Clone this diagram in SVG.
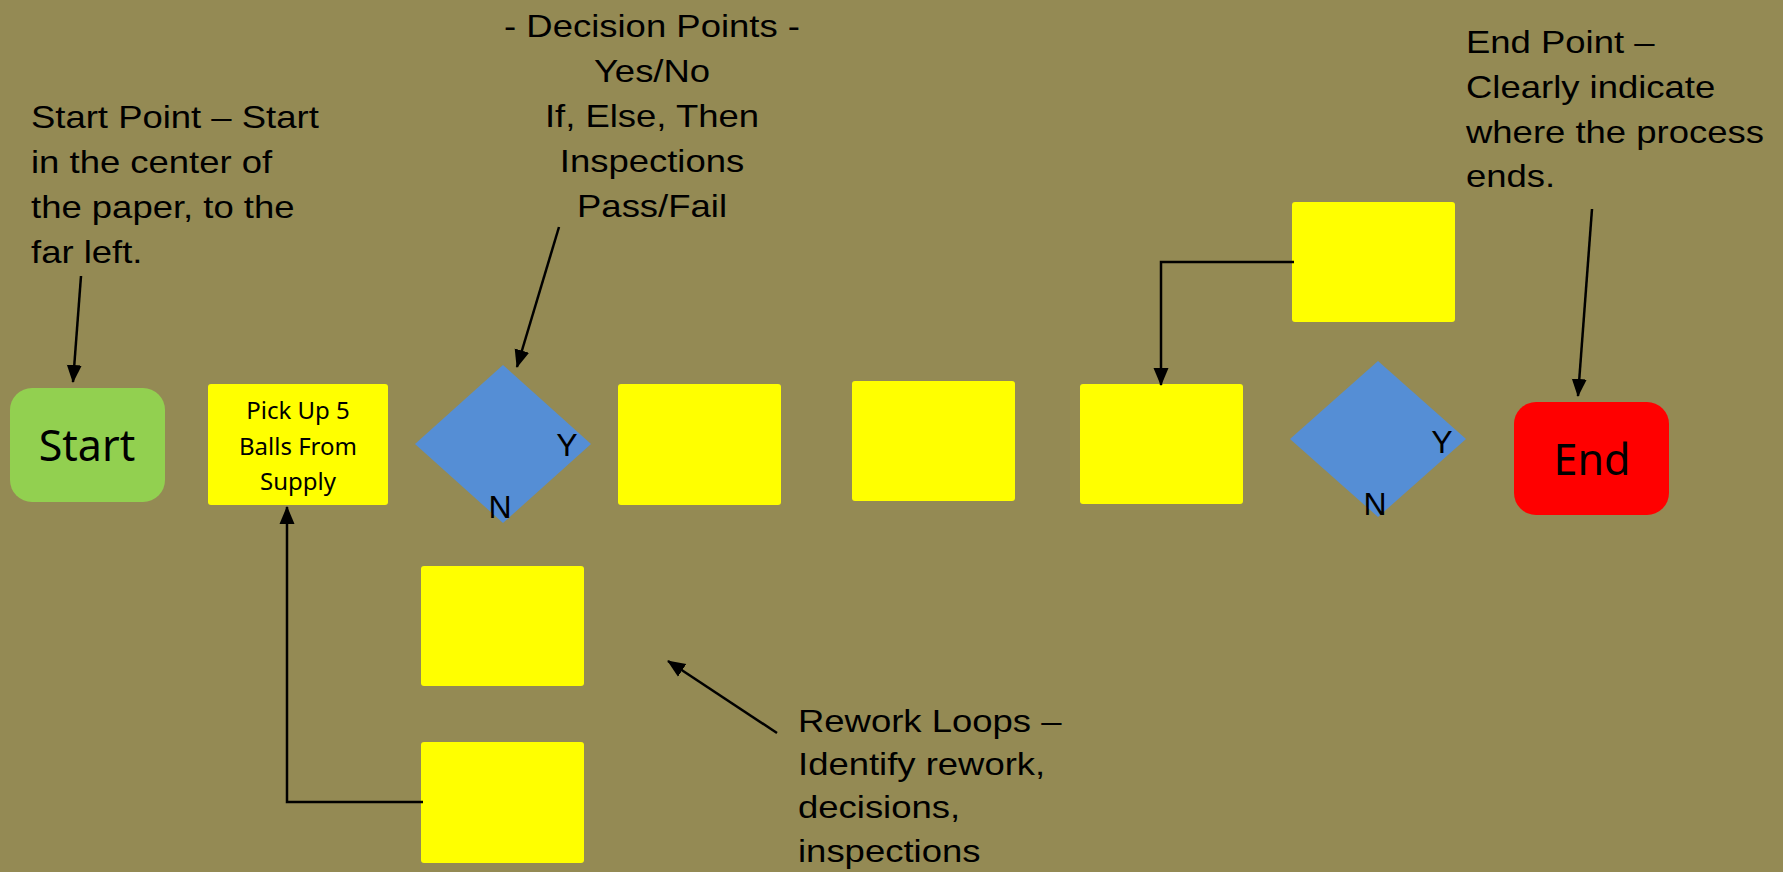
<svg xmlns="http://www.w3.org/2000/svg" width="1783" height="872" viewBox="0 0 1783 872">
  <defs>
    <marker id="arrow" markerUnits="userSpaceOnUse" markerWidth="18" markerHeight="18" viewBox="0 0 18 18" refX="17" refY="9" orient="auto">
      <path d="M0,1.5 L18,9 L0,16.5 Z" fill="#000"/>
    </marker>
    <style>
      .bg { fill: #948A54; }
      .task { fill: #FFFF00; }
      .decision { fill: #558ED5; }
      .start { fill: #92D050; }
      .end { fill: #FF0000; }
      .term { font-family: "Noto Sans", "Open Sans", sans-serif; font-size: 43px; fill: #000; text-anchor: middle; }
      .tasktext { font-family: "Noto Sans", "Open Sans", sans-serif; font-size: 24px; fill: #000; text-anchor: middle; }
      .note { font-family: "Liberation Sans", Arial, sans-serif; font-size: 32px; fill: #000; }
      .yn { font-family: "Liberation Sans", Arial, sans-serif; font-size: 32px; fill: #000; text-anchor: middle; }
      .link { fill: none; stroke: #000; stroke-width: 2.5; marker-end: url(#arrow); }
    </style>
  </defs>

  <rect class="bg" x="0" y="0" width="1783" height="872"/>

  <!-- process nodes -->
  <g id="start">
    <rect class="start" x="10" y="388" width="155" height="114" rx="22"/>
    <text class="term" x="87" y="461">Start</text>
  </g>
  <g id="pick-up">
    <rect class="task" x="208" y="384" width="180" height="121" rx="3"/>
    <text class="tasktext" x="298" y="419">Pick Up 5</text>
    <text class="tasktext" x="298" y="455">Balls From</text>
    <text class="tasktext" x="298" y="490">Supply</text>
  </g>
  <g id="decision-1">
    <polygon class="decision" points="503,365 591,444 503,523 415,444"/>
    <text class="yn" x="567" y="456">Y</text>
    <text class="yn" x="500" y="518">N</text>
  </g>
  <g id="step-2">
    <rect class="task" x="618" y="384" width="163" height="121" rx="3"/>
  </g>
  <g id="step-3">
    <rect class="task" x="852" y="381" width="163" height="120" rx="3"/>
  </g>
  <g id="step-4">
    <rect class="task" x="1080" y="384" width="163" height="120" rx="3"/>
  </g>
  <g id="step-upper">
    <rect class="task" x="1292" y="202" width="163" height="120" rx="3"/>
  </g>
  <g id="decision-2">
    <polygon class="decision" points="1378,361 1466,439 1378,517 1290,439"/>
    <text class="yn" x="1442" y="453">Y</text>
    <text class="yn" x="1375" y="515">N</text>
  </g>
  <g id="end">
    <rect class="end" x="1514" y="402" width="155" height="113" rx="22"/>
    <text class="term" x="1592" y="475">End</text>
  </g>
  <g id="rework-1">
    <rect class="task" x="421" y="566" width="163" height="120" rx="3"/>
  </g>
  <g id="rework-2">
    <rect class="task" x="421" y="742" width="163" height="121" rx="3"/>
  </g>

  <!-- annotations -->
  <g id="note-start" transform="translate(31,0) scale(1.14,1)">
    <text class="note" x="0" y="128">Start Point – Start</text>
    <text class="note" x="0" y="173">in the center of</text>
    <text class="note" x="0" y="218">the paper, to the</text>
    <text class="note" x="0" y="263">far left.</text>
  </g>
  <g id="note-decision" transform="translate(652,0) scale(1.14,1)">
    <text class="note" x="0" y="37" text-anchor="middle">- Decision Points -</text>
    <text class="note" x="0" y="82" text-anchor="middle">Yes/No</text>
    <text class="note" x="0" y="127" text-anchor="middle">If, Else, Then</text>
    <text class="note" x="0" y="172" text-anchor="middle">Inspections</text>
    <text class="note" x="0" y="217" text-anchor="middle">Pass/Fail</text>
  </g>
  <g id="note-end" transform="translate(1466,0) scale(1.14,1)">
    <text class="note" x="0" y="53">End Point –</text>
    <text class="note" x="0" y="98">Clearly indicate</text>
    <text class="note" x="0" y="143">where the process</text>
    <text class="note" x="0" y="187">ends.</text>
  </g>
  <g id="note-rework" transform="translate(798,0) scale(1.14,1)">
    <text class="note" x="0" y="732">Rework Loops –</text>
    <text class="note" x="0" y="775">Identify rework,</text>
    <text class="note" x="0" y="818">decisions,</text>
    <text class="note" x="0" y="862">inspections</text>
  </g>

  <!-- connectors -->
  <g id="connectors">
    <path class="link" d="M81,276 L73,382"/>
    <path class="link" d="M559,227 L517,367"/>
    <path class="link" d="M1592,209 L1578,396"/>
    <path class="link" d="M777,733 L668,661"/>
    <path class="link" d="M1294,262 L1161,262 L1161,385"/>
    <path class="link" d="M423,802 L287,802 L287,507"/>
  </g>
</svg>
